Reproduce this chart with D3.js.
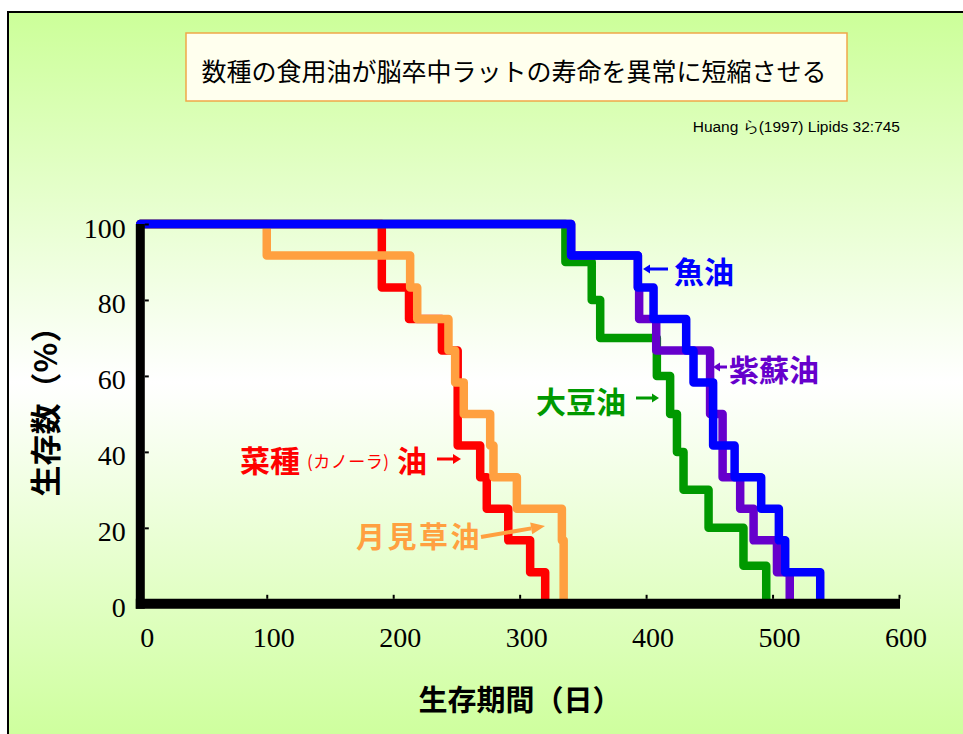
<!DOCTYPE html>
<html>
<head>
<meta charset="utf-8">
<script src="https://cdn.jsdelivr.net/npm/d3@7"></script>
<style>
  html, body { margin: 0; padding: 0; background: #ffffff; }
  svg { display: block; }
</style>
</head>
<body>
<svg id="chart" width="963" height="734"></svg>
<script>
// ---- text ----
const titleText = "数種の食用油が脳卒中ラットの寿命を異常に短縮させる";
const citationText = "Huang ら(1997) Lipids 32:745";
const xAxisTitle = "生存期間（日）";
const yAxisTitle = "生存数（%）";

// ---- axis ticks ----
const xTicks = [0, 100, 200, 300, 400, 500, 600];
const yTicks = [0, 20, 40, 60, 80, 100];

// ---- survival curves: day of each step and % surviving from that day ----
const canolaDays   = [0, 191, 212.5, 238.5, 251, 268.8, 274, 291, 308.3, 320.2];
const canolaPct    = [100, 83.3, 75, 66.7, 41.7, 33.3, 25, 16.7, 8.3, 0];

const primroseDays = [0, 100, 213.4, 219, 243.7, 249, 255.8, 276.7, 279.3, 297.8, 333.4, 334.8];
const primrosePct  = [100, 91.7, 83.3, 75, 66.7, 58.3, 50, 41.7, 33.3, 25, 16.7, 0];

const soybeanDays  = [0, 336.2, 357, 363.7, 408.5, 419, 424.4, 429.6, 449.4, 477, 495];
const soybeanPct   = [100, 90, 80, 70, 60, 50, 40, 30, 20, 10, 0];

const perillaDays  = [0, 340.7, 393.5, 394.5, 408, 450.6, 460.5, 474.4, 485, 503.5, 513.6];
const perillaPct   = [100, 91.7, 83.3, 75, 66.7, 50, 33.3, 25, 16.7, 8.3, 0];

const fishDays     = [0, 340.7, 393.5, 405.9, 431.7, 437.5, 453, 470, 491, 505, 510, 537.7];
const fishPct      = [100, 91.7, 83.3, 75, 66.7, 58.3, 41.7, 33.3, 25, 16.7, 8.3, 0];

// drawing order: later series sit on top
const series = [
  { name: "菜種油",   days: canolaDays,   pct: canolaPct,   color: "#ff0000" },
  { name: "月見草油", days: primroseDays, pct: primrosePct, color: "#ffa040" },
  { name: "大豆油",   days: soybeanDays,  pct: soybeanPct,  color: "#009900" },
  { name: "紫蘇油",   days: perillaDays,  pct: perillaPct,  color: "#6600cc" },
  { name: "魚油",     days: fishDays,     pct: fishPct,     color: "#0000ff" }
];

const CJK = "'Noto Sans CJK JP', 'Noto Sans', sans-serif";
const SERIF = "'Liberation Serif', 'DejaVu Serif', serif";
const SANS = "'Liberation Sans', Arial, sans-serif";

const svg = d3.select("#chart");

// ---- background panel with vertical green-white-green wash ----
const defs = svg.append("defs");
const grad = defs.append("linearGradient")
  .attr("id", "bgWash").attr("x1", 0).attr("y1", 0).attr("x2", 0).attr("y2", 1);
grad.append("stop").attr("offset", "0%").attr("stop-color", "#ccff99");
grad.append("stop").attr("offset", "50%").attr("stop-color", "#ffffff");
grad.append("stop").attr("offset", "100%").attr("stop-color", "#ccff99");

svg.append("rect")
  .attr("x", 8).attr("y", 12).attr("width", 970).attr("height", 740)
  .attr("fill", "url(#bgWash)")
  .attr("stroke", "#000").attr("stroke-width", 2);

// ---- title box ----
svg.append("rect")
  .attr("x", 186).attr("y", 33).attr("width", 661).attr("height", 68)
  .attr("fill", "#ffffee").attr("stroke", "#f0a848").attr("stroke-width", 1.5);
svg.append("text")
  .attr("x", 514).attr("y", 70)
  .attr("text-anchor", "middle").attr("dominant-baseline", "central")
  .style("font-family", CJK).style("font-size", "25px").attr("fill", "#000")
  .text(titleText);

svg.append("text")
  .attr("x", 900).attr("y", 132)
  .attr("text-anchor", "end")
  .style("font-family", SANS).style("font-size", "15.5px").attr("fill", "#000")
  .text(citationText);

// ---- scales ----
const x = d3.scaleLinear().domain([0, 600]).range([140.3, 899]);
const y = d3.scaleLinear().domain([0, 100]).range([603.8, 224]);

// ---- survival step lines ----
const line = d3.line()
  .x(d => x(d[0]))
  .y(d => y(d[1]))
  .curve(d3.curveStepAfter);

const lines = svg.append("g").attr("class", "curves");
series.forEach(s => {
  const pts = s.days.map((d, i) => [d, s.pct[i]]);
  lines.append("path")
    .datum(pts)
    .attr("d", line)
    .attr("fill", "none")
    .attr("stroke", s.color)
    .attr("stroke-width", 8.5)
    .attr("stroke-linejoin", "round")
    .attr("stroke-linecap", "round");
});

// ---- axes ----
const axisColor = "#000";
svg.append("line")
  .attr("x1", x(0)).attr("x2", x(0))
  .attr("y1", y(100)).attr("y2", y(0) + 5)
  .attr("stroke", axisColor).attr("stroke-width", 9);
svg.append("line")
  .attr("x1", x(0) - 4.5).attr("x2", x(600) + 1)
  .attr("y1", y(0)).attr("y2", y(0))
  .attr("stroke", axisColor).attr("stroke-width", 10);

const yAxis = svg.append("g")
  .attr("transform", `translate(${x(0) + 4.5},0)`)
  .call(d3.axisLeft(y).tickValues(yTicks).tickSize(-4).tickSizeOuter(0).tickPadding(19)
    .tickFormat(d3.format("d")));
yAxis.select(".domain").remove();
yAxis.selectAll(".tick line").attr("stroke", axisColor).attr("stroke-width", 2);
yAxis.selectAll(".tick text")
  .attr("dy", 13)
  .style("font-family", SERIF).style("font-size", "28px").attr("fill", "#000");

const xAxis = svg.append("g")
  .attr("transform", `translate(0,${y(0) - 5})`)
  .call(d3.axisBottom(x).tickValues(xTicks).tickSize(-4).tickSizeOuter(0)
    .tickFormat(d3.format("d")));
xAxis.select(".domain").remove();
xAxis.selectAll(".tick line").attr("stroke", axisColor).attr("stroke-width", 2);
xAxis.selectAll(".tick text")
  .attr("y", 48).attr("dy", null).attr("dx", 6.5)
  .style("font-family", SERIF).style("font-size", "28px").attr("fill", "#000");

// ---- axis titles ----
svg.append("text")
  .attr("x", 520).attr("y", 698)
  .attr("text-anchor", "middle").attr("dominant-baseline", "central")
  .style("font-family", CJK).style("font-size", "29px").style("font-weight", 700)
  .attr("fill", "#000")
  .text(xAxisTitle);

svg.append("text")
  .attr("transform", "translate(43,404) rotate(-90)")
  .attr("text-anchor", "middle").attr("dominant-baseline", "central")
  .style("font-family", CJK).style("font-size", "31px").style("font-weight", 700)
  .attr("fill", "#000")
  .text(yAxisTitle);

// ---- series labels with pointer arrows ----
function arrow(x1, y1, x2, y2, color, width, headLen, headW) {
  const ang = Math.atan2(y2 - y1, x2 - x1);
  const bx = x2 - headLen * Math.cos(ang), by = y2 - headLen * Math.sin(ang);
  svg.append("line")
    .attr("x1", x1).attr("y1", y1).attr("x2", bx).attr("y2", by)
    .attr("stroke", color).attr("stroke-width", width);
  const px = -Math.sin(ang) * headW / 2, py = Math.cos(ang) * headW / 2;
  svg.append("path")
    .attr("d", `M${x2},${y2}L${bx + px},${by + py}L${bx - px},${by - py}Z`)
    .attr("fill", color);
}

function label(txt, lx, ly, color, size, weight, spacing) {
  svg.append("text")
    .attr("x", lx).attr("y", ly)
    .attr("dominant-baseline", "central")
    .style("font-family", CJK).style("font-size", size + "px")
    .style("font-weight", weight)
    .style("letter-spacing", (spacing || 0) + "px")
    .attr("fill", color)
    .text(txt);
}

const colorOf = name => series.find(s => s.name === name).color;

// 魚油
label("魚油", 674, 270, colorOf("魚油"), 30, 700);
arrow(668, 269, 643, 269, colorOf("魚油"), 3, 7, 9);

// 紫蘇油
label("紫蘇油", 729, 368, colorOf("紫蘇油"), 30, 700);
arrow(727, 367, 713, 367, colorOf("紫蘇油"), 3, 7, 9);

// 大豆油
label("大豆油", 536, 400, colorOf("大豆油"), 30, 700);
arrow(636, 398, 659, 398, colorOf("大豆油"), 3, 7, 9);

// 菜種（カノーラ）油
label("菜種", 240, 459, colorOf("菜種油"), 30, 700);
label("(カノーラ)", 307, 460, colorOf("菜種油"), 17, 400, 0.5);
label("油", 397, 459, colorOf("菜種油"), 30, 700);
arrow(437, 459, 461, 459, colorOf("菜種油"), 3, 8, 10);

// 月見草油
label("月見草油", 356, 535, colorOf("月見草油"), 29, 700, 2.5);
arrow(481, 537, 545, 526, colorOf("月見草油"), 4, 14, 12);
</script>
</body>
</html>
